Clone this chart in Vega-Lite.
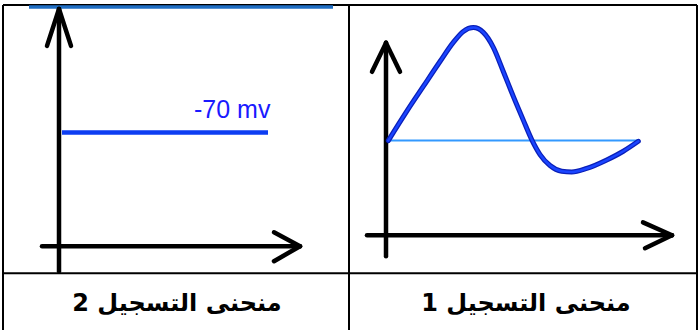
{
  "$schema": "https://vega.github.io/schema/vega-lite/v6.json",
  "width": 699,
  "height": 331,
  "autosize": {"type": "fit", "contains": "padding"},
  "padding": 0,
  "background": "white",
  "config": {"view": {"stroke": null}},
  "datasets": {
    "frame": [
      {"x1": 3, "y1": 5, "x2": 697, "y2": 5},
      {"x1": 3, "y1": 5, "x2": 3, "y2": 331},
      {"x1": 349, "y1": 5, "x2": 349, "y2": 331},
      {"x1": 697, "y1": 5, "x2": 697, "y2": 331},
      {"x1": 3, "y1": 274, "x2": 697, "y2": 274}
    ],
    "topbar": [
      {"x1": 29, "y1": 7, "x2": 333, "y2": 7}
    ],
    "arrows": [
      {"x1": 59, "y1": 9, "x2": 59, "y2": 272},
      {"x1": 59, "y1": 9, "x2": 47, "y2": 46},
      {"x1": 59, "y1": 9, "x2": 71, "y2": 46},
      {"x1": 42, "y1": 247, "x2": 300, "y2": 247},
      {"x1": 300, "y1": 247, "x2": 274, "y2": 233},
      {"x1": 300, "y1": 247, "x2": 274, "y2": 262},
      {"x1": 386, "y1": 43, "x2": 386, "y2": 257},
      {"x1": 386, "y1": 43, "x2": 372, "y2": 72},
      {"x1": 386, "y1": 43, "x2": 400, "y2": 72},
      {"x1": 367, "y1": 236, "x2": 672, "y2": 236},
      {"x1": 672, "y1": 236, "x2": 643, "y2": 223},
      {"x1": 672, "y1": 236, "x2": 645, "y2": 249}
    ],
    "rest": [
      {"x1": 62, "y1": 133, "x2": 268, "y2": 133}
    ],
    "baseline": [
      {"x1": 388, "y1": 141, "x2": 640, "y2": 141}
    ],
    "curve": [
      {"t": 388.3, "v": 141},
      {"t": 406.7, "v": 111.7},
      {"t": 423.3, "v": 86.7},
      {"t": 440, "v": 61.7},
      {"t": 453.3, "v": 42.5},
      {"t": 463.3, "v": 31.5},
      {"t": 473.3, "v": 27.7},
      {"t": 483.3, "v": 32.5},
      {"t": 493.3, "v": 47.5},
      {"t": 503.3, "v": 71.7},
      {"t": 513.3, "v": 96.7},
      {"t": 523.3, "v": 120.5},
      {"t": 531.7, "v": 140},
      {"t": 540, "v": 155},
      {"t": 550, "v": 166},
      {"t": 561.7, "v": 171.7},
      {"t": 571.7, "v": 172.5},
      {"t": 586.7, "v": 169},
      {"t": 606.7, "v": 160.5},
      {"t": 623.3, "v": 151.7},
      {"t": 638.3, "v": 141.7}
    ],
    "label": [
      {"x": 194, "y": 118, "text": "-70 mv"}
    ],
    "captions": [
      {"x": 177, "y": 305, "text": "منحنى التسجيل 2"},
      {"x": 526, "y": 305, "text": "منحنى التسجيل 1"}
    ]
  },
  "layer": [
    {
      "data": {"name": "frame"},
      "mark": {"type": "rule", "color": "black", "strokeWidth": 2},
      "encoding": {
        "x": {"field": "x1", "type": "quantitative", "scale": {"domain": [0, 699], "nice": false, "zero": false}, "axis": null},
        "y": {"field": "y1", "type": "quantitative", "scale": {"domain": [0, 331], "nice": false, "zero": false, "reverse": true}, "axis": null},
        "x2": {"field": "x2"},
        "y2": {"field": "y2"}
      }
    },
    {
      "data": {"name": "topbar"},
      "mark": {"type": "rule", "color": "#1f6ec4", "strokeWidth": 3.5},
      "encoding": {
        "x": {"field": "x1", "type": "quantitative", "axis": null},
        "y": {"field": "y1", "type": "quantitative", "axis": null},
        "x2": {"field": "x2"},
        "y2": {"field": "y2"}
      }
    },
    {
      "data": {"name": "arrows"},
      "mark": {"type": "rule", "color": "black", "strokeWidth": 4.5, "strokeCap": "round"},
      "encoding": {
        "x": {"field": "x1", "type": "quantitative", "axis": null},
        "y": {"field": "y1", "type": "quantitative", "axis": null},
        "x2": {"field": "x2"},
        "y2": {"field": "y2"}
      }
    },
    {
      "data": {"name": "rest"},
      "mark": {"type": "rule", "color": "#0d3df2", "strokeWidth": 4.5},
      "encoding": {
        "x": {"field": "x1", "type": "quantitative", "axis": null},
        "y": {"field": "y1", "type": "quantitative", "axis": null},
        "x2": {"field": "x2"},
        "y2": {"field": "y2"}
      }
    },
    {
      "data": {"name": "baseline"},
      "mark": {"type": "rule", "color": "#3399ff", "strokeWidth": 2},
      "encoding": {
        "x": {"field": "x1", "type": "quantitative", "axis": null},
        "y": {"field": "y1", "type": "quantitative", "axis": null},
        "x2": {"field": "x2"},
        "y2": {"field": "y2"}
      }
    },
    {
      "data": {"name": "curve"},
      "mark": {"type": "line", "color": "#0a1fb8", "strokeWidth": 5, "interpolate": "monotone", "strokeCap": "round"},
      "encoding": {
        "x": {"field": "t", "type": "quantitative", "axis": null},
        "y": {"field": "v", "type": "quantitative", "axis": null}
      }
    },
    {
      "data": {"name": "curve"},
      "mark": {"type": "line", "color": "#1a44ff", "strokeWidth": 2.5, "interpolate": "monotone", "strokeCap": "round"},
      "encoding": {
        "x": {"field": "t", "type": "quantitative", "axis": null},
        "y": {"field": "v", "type": "quantitative", "axis": null}
      }
    },
    {
      "data": {"name": "label"},
      "mark": {"type": "text", "color": "#1a1aff", "font": "Liberation Sans", "fontSize": 25, "align": "left", "baseline": "alphabetic"},
      "encoding": {
        "x": {"field": "x", "type": "quantitative", "axis": null},
        "y": {"field": "y", "type": "quantitative", "axis": null},
        "text": {"field": "text"}
      }
    },
    {
      "data": {"name": "captions"},
      "mark": {"type": "text", "color": "black", "font": "DejaVu Sans", "fontWeight": "bold", "fontSize": 24, "align": "center", "baseline": "middle"},
      "encoding": {
        "x": {"field": "x", "type": "quantitative", "axis": null},
        "y": {"field": "y", "type": "quantitative", "axis": null},
        "text": {"field": "text"}
      }
    }
  ]
}
